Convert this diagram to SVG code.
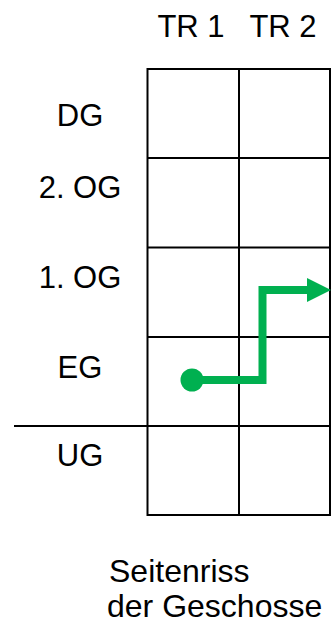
<svg xmlns="http://www.w3.org/2000/svg" width="334" height="628" viewBox="0 0 334 628">
<style>
text{font-family:"Liberation Sans",Arial,sans-serif;font-size:31px;fill:#000}
.lbl{text-anchor:middle}
.cap{font-size:32px}
.grid{fill:none;stroke:#000;stroke-width:2}
.route{fill:none;stroke:#00b050;stroke-width:8}
</style>
<defs>
<marker id="arr" markerUnits="userSpaceOnUse" markerWidth="24" markerHeight="24" refX="0" refY="12" orient="auto">
<path d="M0,0 L24,12 L0,24 Z" fill="#00b050"/>
</marker>
</defs>
<rect width="334" height="628" fill="#fff"/>
<g id="header">
<text class="lbl" x="191" y="37">TR 1</text>
<text class="lbl" x="283" y="37">TR 2</text>
</g>
<g id="grid">
<rect class="grid" x="147.5" y="69" width="182.5" height="446"/>
<line class="grid" x1="239" y1="69" x2="239" y2="515"/>
<line class="grid" x1="147.5" y1="158" x2="330" y2="158"/>
<line class="grid" x1="147.5" y1="247.5" x2="330" y2="247.5"/>
<line class="grid" x1="147.5" y1="337" x2="330" y2="337"/>
<line class="grid" x1="14" y1="426" x2="330" y2="426"/>
</g>
<g id="floors">
<text id="DG" class="lbl" x="80" y="126">DG</text>
<text id="OG2" class="lbl" x="80" y="198">2. OG</text>
<text id="OG1" class="lbl" x="80" y="288">1. OG</text>
<text id="EG" class="lbl" x="80" y="377.5">EG</text>
<text id="UG" class="lbl" x="80" y="466">UG</text>
</g>
<g id="connectors">
<circle cx="192" cy="380" r="11.5" fill="#00b050"/>
<path class="route" d="M192,380 H262.5 V290 H307" marker-end="url(#arr)"/>
</g>
<g id="caption">
<text class="cap" x="109" y="582">Seitenriss</text>
<text class="cap" x="107" y="617">der Geschosse</text>
</g>
</svg>
